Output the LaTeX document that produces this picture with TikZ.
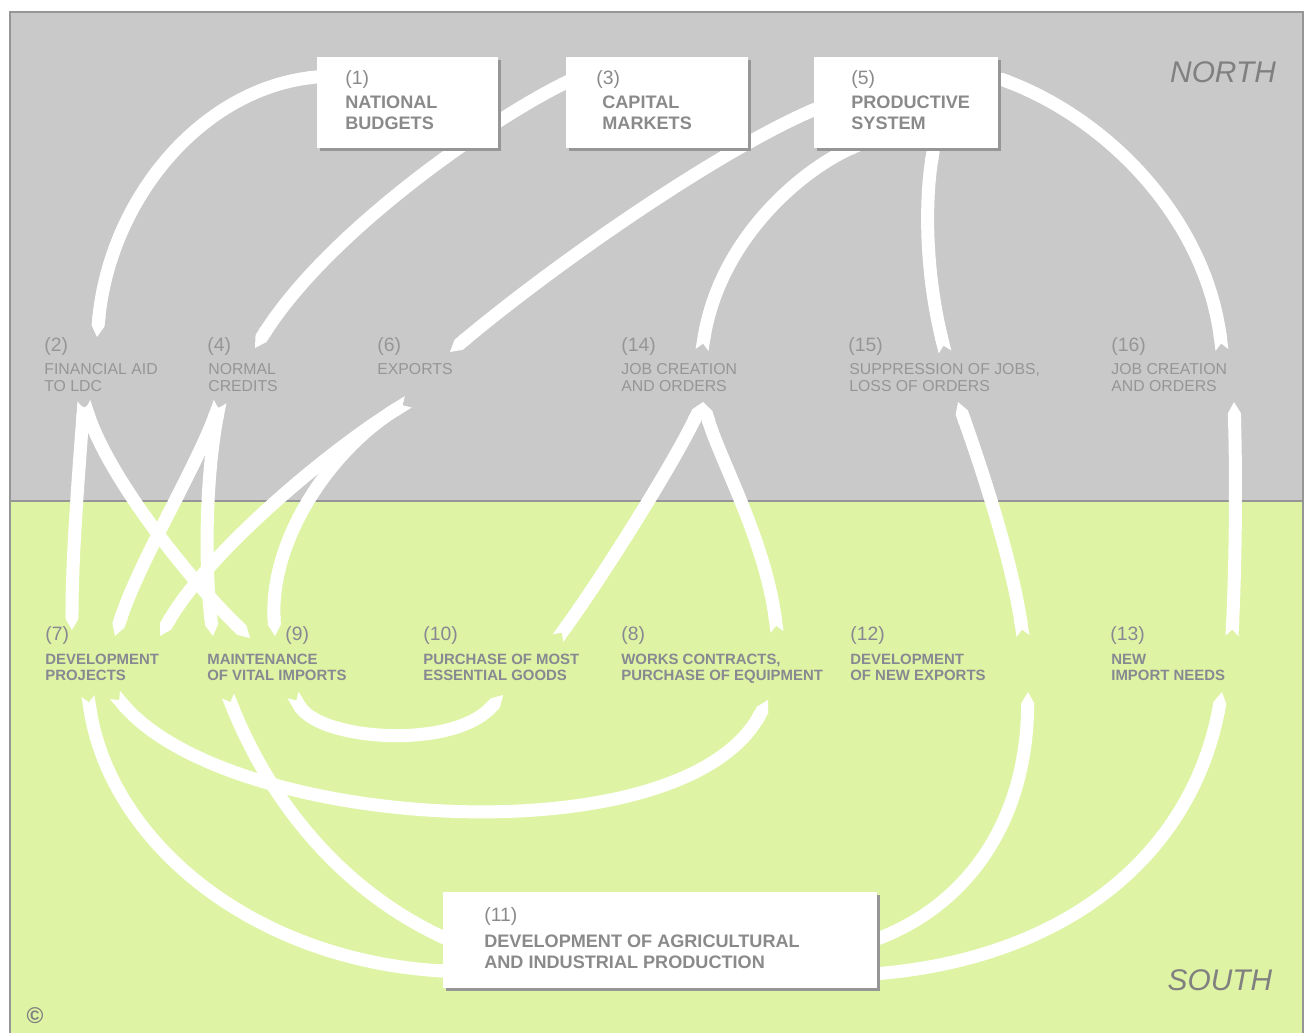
\documentclass[tikz,border=0pt]{standalone}
\usepackage{fontspec}
\setmainfont{Liberation Sans}
\usetikzlibrary{arrows.meta,shadows}

\definecolor{northbg}{RGB}{201,201,201}
\definecolor{southbg}{RGB}{222,244,164}
\definecolor{framegray}{RGB}{150,150,150}
\definecolor{southtext}{RGB}{136,136,146}
\definecolor{northtext}{RGB}{150,150,150}
\definecolor{boxtext}{RGB}{138,138,138}
\definecolor{boxshadow}{RGB}{150,150,150}
\definecolor{regiontext}{RGB}{128,128,128}

\begin{document}
\begin{tikzpicture}[x=0.02cm, y=-0.02cm,
  band/.style={draw=white, line width=0.26cm,
    {Triangle Cap[reversed]}-{Triangle Cap[cap angle=60]}},
  panel/.style={fill=white, draw=none, anchor=north west, inner sep=0,
    general shadow={fill=boxshadow, shadow xshift=0.05cm, shadow yshift=-0.05cm}},
  numlbl/.style={anchor=north west, inner sep=0, font=\fontsize{11}{12}\selectfont},
  southlbl/.style={anchor=north west, inner sep=0, align=left, text=southtext,
    font=\fontsize{8.5}{9.1}\selectfont\bfseries},
  northlbl/.style={anchor=north west, inner sep=0, align=left, text=northtext,
    font=\fontsize{9}{9.6}\selectfont},
  boxlbl/.style={anchor=north west, inner sep=0, align=left, text=boxtext,
    font=\fontsize{10.3}{11.9}\selectfont\bfseries},
  regionlbl/.style={inner sep=0, text=regiontext, font=\fontsize{17}{20}\selectfont\itshape}
]
\useasboundingbox (0,0) rectangle (1308,1033);

% the two halves of the sheet
\fill[northbg] (10,12) rectangle (1303,501);
\fill[southbg] (10,501) rectangle (1303,1033);
\draw[framegray, line width=0.6pt] (10,501) -- (1303,501);
\draw[framegray, line width=1.2pt] (10,1033) -- (10,12) -- (1303,12) -- (1303,1033);

% ports where the ribbons start and end
\coordinate (b1w) at (325,76);
\coordinate (b3w) at (575,78);
\coordinate (b5w) at (825,105);
\coordinate (b5sw) at (870,140);
\coordinate (b5s) at (935,140);
\coordinate (b5e) at (990,75);
\coordinate (b11nw) at (460,945);
\coordinate (b11sw) at (460,972);
\coordinate (b11ne) at (860,945);
\coordinate (b11se) at (860,975);
\coordinate (p2in) at (97,337);
\coordinate (p2out) at (84,402);
\coordinate (p4in) at (255,348);
\coordinate (p4out) at (220,402);
\coordinate (p6in) at (450,352);
\coordinate (p6out) at (408,402);
\coordinate (p14in) at (703,402);
\coordinate (p14out) at (702,350);
\coordinate (p15in) at (958,402);
\coordinate (p15out) at (945,352);
\coordinate (p16in) at (1234,402);
\coordinate (p16out) at (1222,350);
\coordinate (p7a) at (72,630);
\coordinate (p7b) at (115,636);
\coordinate (p7c) at (160,636);
\coordinate (p9a) at (213,636);
\coordinate (p9b) at (250,638);
\coordinate (p9c) at (275,636);
\coordinate (p10out) at (558,638);
\coordinate (p8out) at (777,632);
\coordinate (p12out) at (1023,636);
\coordinate (p13out) at (1232,636);
\coordinate (p7d) at (115,695);
\coordinate (p7e) at (88,696);
\coordinate (p9d) at (293,695);
\coordinate (p9e) at (228,696);
\coordinate (p8in) at (768,700);
\coordinate (p10in) at (503,695);
\coordinate (p12in) at (1028,692);
\coordinate (p13in) at (1222,692);

% ribbons in the North
\draw[band] (b1w) .. controls (200,90) and (110,200) .. (p2in);
\draw[band] (b3w) .. controls (490,120) and (330,230) .. (p4in);
\draw[band] (b5w) .. controls (720,150) and (560,260) .. (p6in);
\draw[band] (p14out) .. controls (720,240) and (800,170) .. (b5sw);
\draw[band] (p15out) .. controls (925,270) and (925,200) .. (b5s);
\draw[band] (p16out) .. controls (1205,220) and (1110,120) .. (b5e);

% ribbons crossing from North to South
\draw[band] (p2out) .. controls (78,480) and (72,560) .. (p7a);
\draw[band] (p2out) .. controls (110,480) and (190,580) .. (p9b);
\draw[band] (p4out) .. controls (195,470) and (140,560) .. (p7b);
\draw[band] (p4out) .. controls (205,480) and (205,570) .. (p9a);
\draw[band] (p6out) .. controls (330,450) and (210,550) .. (p7c);
\draw[band] (p6out) .. controls (330,450) and (270,540) .. (p9c);
\draw[band] (p10out) .. controls (600,580) and (670,470) .. (p14in);
\draw[band] (p8out) .. controls (765,540) and (720,460) .. (p14in);
\draw[band] (p12out) .. controls (1010,550) and (975,450) .. (p15in);
\draw[band] (p13out) .. controls (1236,550) and (1236,470) .. (p16in);

% ribbons in the South
\draw[band] (p7d) .. controls (230,830) and (680,860) .. (p8in);
\draw[band] (p9d) .. controls (320,740) and (450,750) .. (p10in);
\draw[band] (p7e) .. controls (110,840) and (250,960) .. (b11sw);
\draw[band] (p9e) .. controls (270,800) and (340,890) .. (b11nw);
\draw[band] (b11ne) .. controls (960,910) and (1025,830) .. (p12in);
\draw[band] (b11se) .. controls (1060,960) and (1190,860) .. (p13in);

% the four framed boxes
\node[panel, minimum width=3.62cm, minimum height=1.82cm] (budgets) at (317,57) {};
\node[panel, minimum width=3.64cm, minimum height=1.82cm] (markets) at (566,57) {};
\node[panel, minimum width=3.68cm, minimum height=1.82cm] (system) at (814,57) {};
\node[panel, minimum width=8.68cm, minimum height=1.92cm] (production) at (443,892) {};

\node[numlbl, text=boxtext] (n1) at (345,70) {(1)};
\node[boxlbl] (t1) at (345,96) {NATIONAL\\BUDGETS};
\node[numlbl, text=boxtext] (n3) at (596,70) {(3)};
\node[boxlbl] (t3) at (602,96) {CAPITAL\\MARKETS};
\node[numlbl, text=boxtext] (n5) at (851,70) {(5)};
\node[boxlbl] (t5) at (851,96) {PRODUCTIVE\\SYSTEM};
\node[numlbl, text=boxtext] (n11) at (484,907) {(11)};
\node[boxlbl] (t11) at (484,935) {DEVELOPMENT OF AGRICULTURAL\\AND INDUSTRIAL PRODUCTION};

% North labels
\node[numlbl, text=northtext] (n2) at (44,337) {(2)};
\node[northlbl] (t2) at (44,363) {FINANCIAL AID\\TO LDC};
\node[numlbl, text=northtext] (n4) at (207,337) {(4)};
\node[northlbl] (t4) at (208,363) {NORMAL\\CREDITS};
\node[numlbl, text=northtext] (n6) at (377,337) {(6)};
\node[northlbl] (t6) at (377,363) {EXPORTS};
\node[numlbl, text=northtext] (n14) at (621,337) {(14)};
\node[northlbl] (t14) at (621,363) {JOB CREATION\\AND ORDERS};
\node[numlbl, text=northtext] (n15) at (848,337) {(15)};
\node[northlbl] (t15) at (849,363) {SUPPRESSION OF JOBS,\\LOSS OF ORDERS};
\node[numlbl, text=northtext] (n16) at (1111,337) {(16)};
\node[northlbl] (t16) at (1111,363) {JOB CREATION\\AND ORDERS};

% South labels
\node[numlbl, text=southtext] (n7) at (45,626) {(7)};
\node[southlbl] (t7) at (45,654) {DEVELOPMENT\\PROJECTS};
\node[numlbl, text=southtext] (n9) at (285,626) {(9)};
\node[southlbl] (t9) at (207,654) {MAINTENANCE\\OF VITAL IMPORTS};
\node[numlbl, text=southtext] (n10) at (423,626) {(10)};
\node[southlbl] (t10) at (423,654) {PURCHASE OF MOST\\ESSENTIAL GOODS};
\node[numlbl, text=southtext] (n8) at (621,626) {(8)};
\node[southlbl] (t8) at (621,654) {WORKS CONTRACTS,\\PURCHASE OF EQUIPMENT};
\node[numlbl, text=southtext] (n12) at (850,626) {(12)};
\node[southlbl] (t12) at (850,654) {DEVELOPMENT\\OF NEW EXPORTS};
\node[numlbl, text=southtext] (n13) at (1110,626) {(13)};
\node[southlbl] (t13) at (1111,654) {NEW\\IMPORT NEEDS};

% region names and copyright mark
\node[regionlbl] (north) at (1223,72) {NORTH};
\node[regionlbl] (south) at (1220,980) {SOUTH};
\node[inner sep=0, text=regiontext, font=\fontsize{13}{14}\selectfont\bfseries] (copy) at (35,1016) {\textcopyright};
\end{tikzpicture}
\end{document}
